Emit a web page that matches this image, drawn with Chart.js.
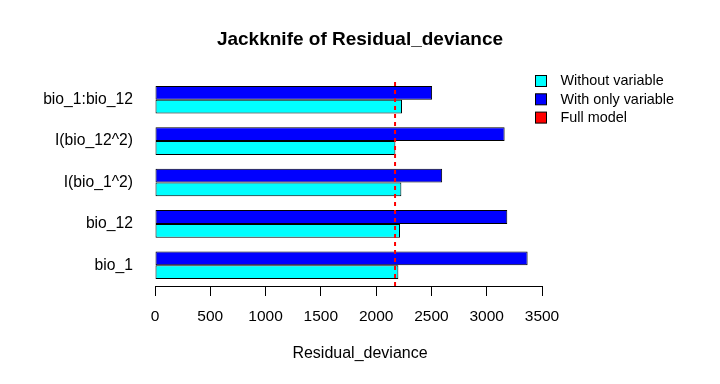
<!DOCTYPE html>
<html>
<head>
<meta charset="utf-8">
<script src="https://cdn.jsdelivr.net/npm/chart.js@4/dist/chart.umd.min.js"></script>
<style>
  html, body { margin: 0; padding: 0; background: #fff; }
  #wrap { width: 720px; height: 384px; }
</style>
</head>
<body>
<div id="wrap"><canvas id="jackknife"></canvas></div>
<script>
// variables, listed top to bottom as in the plot
var variables = ['bio_1:bio_12', 'I(bio_12^2)', 'I(bio_1^2)', 'bio_12', 'bio_1'];
var withoutVariable = [2234, 2174, 2228, 2216, 2201];
var withOnlyVariable = [2506, 3162, 2597, 3186, 3370];
var fullModel = 2171;
var xTicks = [0, 500, 1000, 1500, 2000, 2500, 3000, 3500];

var legendItems = [
    { text: 'Without variable', color: '#00ffff' },
    { text: 'With only variable', color: '#0000ff' },
    { text: 'Full model', color: '#ff0000' }
];

var FONT = '"Liberation Sans", Arial, Helvetica, sans-serif';
Chart.defaults.font.family = FONT;
Chart.defaults.color = '#000';

// title, axis label, full-model line and legend drawn on top
var extras = {
    id: 'extras',
    afterDatasetsDraw: function (chart) {
        var ctx = chart.ctx;
        var area = chart.chartArea;
        var x = chart.scales.x.getPixelForValue(fullModel);
        ctx.save();
        ctx.strokeStyle = '#ff0000';
        ctx.lineWidth = 2;
        ctx.setLineDash([4, 4]);
        ctx.beginPath();
        ctx.moveTo(x, area.bottom);
        ctx.lineTo(x, area.top - 1);
        ctx.stroke();
        ctx.restore();
    },
    afterDraw: function (chart) {
        var ctx = chart.ctx;
        ctx.save();
        ctx.fillStyle = '#000';
        ctx.textAlign = 'center';
        ctx.textBaseline = 'middle';
        ctx.font = 'bold 19px ' + FONT;
        ctx.fillText('Jackknife of Residual_deviance', 360, 40);
        ctx.font = '16px ' + FONT;
        ctx.fillText('Residual_deviance', 360, 354);

        ctx.textAlign = 'left';
        ctx.font = '14.4px ' + FONT;
        legendItems.forEach(function (item, i) {
            var cy = 81 + i * 18.3;
            ctx.fillStyle = item.color;
            ctx.fillRect(535.5, cy - 5.5, 11, 11);
            ctx.strokeStyle = '#000';
            ctx.lineWidth = 1;
            ctx.strokeRect(535.5, cy - 5.5, 11, 11);
            ctx.fillStyle = '#000';
            ctx.fillText(item.text, 560.5, cy + 0.5);
        });
        ctx.restore();
    }
};

new Chart(document.getElementById('jackknife'), {
    type: 'bar',
    data: {
        labels: variables,
        datasets: [
            {
                label: 'With only variable',
                data: withOnlyVariable,
                backgroundColor: '#0000ff',
                borderColor: '#000',
                borderWidth: 1,
                borderSkipped: false
            },
            {
                label: 'Without variable',
                data: withoutVariable,
                backgroundColor: '#00ffff',
                borderColor: '#000',
                borderWidth: 1,
                borderSkipped: false
            }
        ]
    },
    options: {
        indexAxis: 'y',
        responsive: true,
        maintainAspectRatio: false,
        animation: false,
        datasets: {
            bar: { categoryPercentage: 2 / 3, barPercentage: 1 }
        },
        layout: {
            padding: { left: 0, right: 178, top: 79, bottom: 0 }
        },
        plugins: {
            legend: { display: false },
            title: { display: false },
            tooltip: { enabled: false }
        },
        scales: {
            x: {
                min: 0,
                max: 3500,
                afterBuildTicks: function (axis) {
                    axis.ticks = xTicks.map(function (v) { return { value: v }; });
                },
                afterFit: function (axis) { axis.height = 98; },
                grid: {
                    display: true,
                    drawOnChartArea: false,
                    drawTicks: true,
                    tickLength: 10,
                    color: '#000',
                    lineWidth: 1
                },
                border: { display: true, color: '#000', width: 1 },
                ticks: {
                    padding: 11,
                    maxRotation: 0,
                    autoSkip: false,
                    font: { size: 15.5 },
                    color: '#000',
                    callback: function (v) { return String(v); }
                }
            },
            y: {
                afterFit: function (axis) { axis.width = 155; },
                grid: { display: false, drawTicks: false },
                border: { display: false },
                ticks: {
                    padding: 22,
                    font: { size: 15.7 },
                    color: '#000'
                }
            }
        }
    },
    plugins: [extras]
});
</script>
</body>
</html>
